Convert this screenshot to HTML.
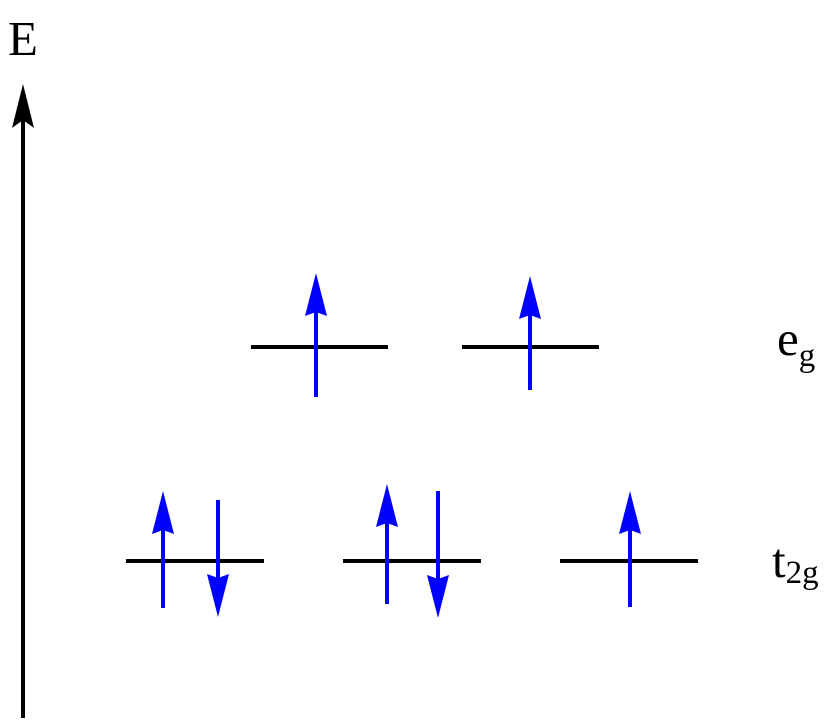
<!DOCTYPE html>
<html><head><style>body{margin:0;background:#fff}svg{display:block}</style></head><body>
<svg width="833" height="728" xmlns="http://www.w3.org/2000/svg" font-family="'Liberation Serif', serif">
<rect width="833" height="728" fill="#fff"/>
<text x="8" y="55" font-size="49">E</text>
<line x1="23" y1="718" x2="23" y2="115" stroke="#000" stroke-width="4"/>
<polygon points="23,84 12,128 23,120 34,128" fill="#000"/>
<g stroke="#000" stroke-width="4">
<line x1="251" y1="347" x2="388" y2="347"/>
<line x1="462" y1="347" x2="599" y2="347"/>
<line x1="126" y1="561" x2="264" y2="561"/>
<line x1="343" y1="561" x2="481" y2="561"/>
<line x1="560" y1="561" x2="698" y2="561"/>
</g>
<g stroke="#0000ff" stroke-width="4">
<line x1="316" y1="397" x2="316" y2="305"/>
<line x1="530" y1="390" x2="530" y2="308"/>
<line x1="163" y1="608" x2="163" y2="523"/>
<line x1="218" y1="500" x2="218" y2="585"/>
<line x1="387" y1="604" x2="387" y2="516"/>
<line x1="438" y1="491" x2="438" y2="586"/>
<line x1="630" y1="607" x2="630" y2="523"/>
</g>
<g fill="#0000ff">
<polygon points="316,273 305,316 316,312 327,316"/>
<polygon points="530,276 519,319 530,315 541,319"/>
<polygon points="163,491 152,534 163,530 174,534"/>
<polygon points="218,617 207,574 218,578 229,574"/>
<polygon points="387,484 376,527 387,523 398,527"/>
<polygon points="438,618 427,575 438,579 449,575"/>
<polygon points="630,491 619,534 630,530 641,534"/>
</g>
<text x="777" y="355" font-size="49">e<tspan font-size="33" dy="11">g</tspan></text>
<text x="772" y="577" font-size="49">t<tspan font-size="33" dy="6">2g</tspan></text>
</svg>
</body></html>
